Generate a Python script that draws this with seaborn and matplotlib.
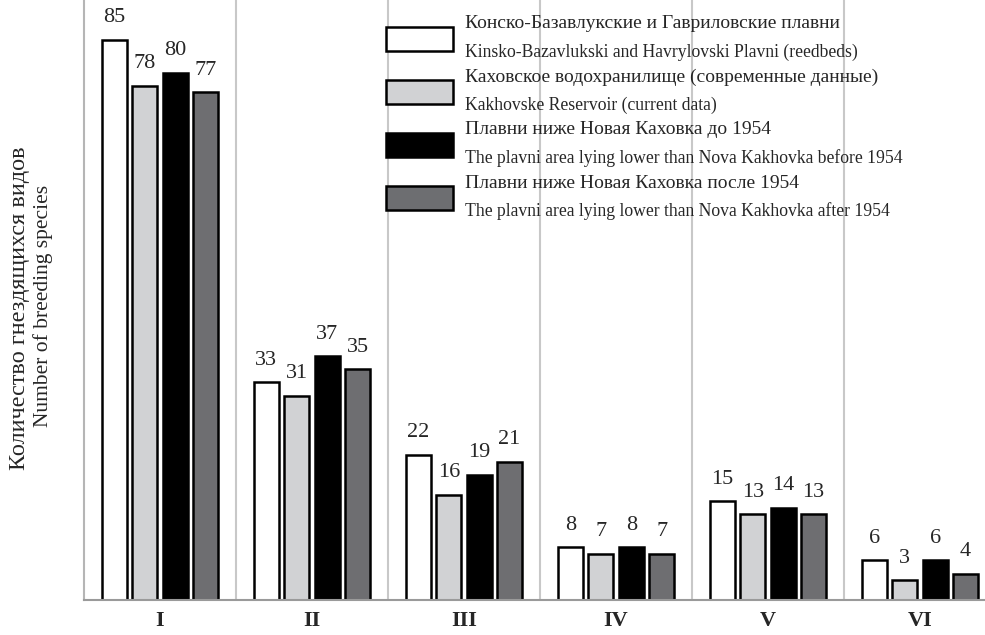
import seaborn as sns
import matplotlib.pyplot as plt
import pandas as pd
from matplotlib.patches import Rectangle

# -----------------------------------------
# Data: number of breeding species by group
# -----------------------------------------

groups = ["I", "II", "III", "IV", "V", "VI"]

series_ru = [
    "Конско-Базавлукские и Гавриловские плавни",
    "Каховское водохранилище (современные данные)",
    "Плавни ниже Новая Каховка до 1954",
    "Плавни ниже Новая Каховка после 1954",
]
series_en = [
    "Kinsko-Bazavlukski and Havrylovski Plavni (reedbeds)",
    "Kakhovske Reservoir (current data)",
    "The plavni area lying lower than Nova Kakhovka before 1954",
    "The plavni area lying lower than Nova Kakhovka after 1954",
]

konsko = [85, 33, 22, 8, 15, 6]
kakhovske = [78, 31, 16, 7, 13, 3]
before_1954 = [80, 37, 19, 8, 14, 6]
after_1954 = [77, 35, 21, 7, 13, 4]

colors = ["#ffffff", "#d1d2d4", "#000000", "#6d6e71"]

df = pd.DataFrame({
    "group": groups * 4,
    "series": sum([[s] * len(groups) for s in series_ru], []),
    "value": konsko + kakhovske + before_1954 + after_1954,
})

# -----------------------------------------
# Styling
# -----------------------------------------

sns.set_style("white")
plt.rcParams["font.family"] = ["Liberation Serif", "DejaVu Serif"]

fig = plt.figure(figsize=(9.85, 6.35), dpi=100)
ax = fig.add_axes([84 / 985, 35 / 635, 912 / 985, 600 / 635])

sns.barplot(
    data=df, x="group", y="value", hue="series",
    order=groups, hue_order=series_ru, palette=colors,
    edgecolor="black", linewidth=1.8, gap=0.17,
    legend=False, ax=ax,
)

for cont in ax.containers:
    ax.bar_label(cont, fontsize=16, padding=9)

# separators between groups
for i in range(len(groups) - 1):
    ax.axvline(i + 0.5, color="#c8c8c8", lw=1.5, zorder=0)

ax.set_xlim(-0.5, len(groups) - 0.5)
ax.set_ylim(0, 91)
ax.set_yticks([])
ax.set_xlabel("")
ax.set_ylabel("")
ax.tick_params(axis="x", length=0, pad=8)
for lbl in ax.get_xticklabels():
    lbl.set_fontsize(16)
    lbl.set_fontweight("bold")

for side in ["top", "right"]:
    ax.spines[side].set_visible(False)
ax.spines["left"].set_color("#b5b5b5")
ax.spines["bottom"].set_color("#9a9a9a")
ax.spines["left"].set_linewidth(1.5)
ax.spines["bottom"].set_linewidth(1.5)

# y label in two languages
fig.text(20 / 985, 1 - 308 / 635, "Количество гнездящихся видов",
         rotation=90, ha="center", va="center", fontsize=17.5)
fig.text(43 / 985, 1 - 306 / 635, "Number of breeding species",
         rotation=90, ha="center", va="center", fontsize=15.5)

# legend (two-line labels with different sizes)
W, H = 985, 635
for i, (ru, en, c) in enumerate(zip(series_ru, series_en, colors)):
    y0 = 27 + i * 53
    fig.add_artist(Rectangle((386 / W, 1 - (y0 + 24) / H), 67 / W, 24 / H,
                             facecolor=c, edgecolor="black", lw=1.8,
                             transform=fig.transFigure))
    fig.text(465 / W, 1 - (y0 - 3) / H, ru, ha="left", va="center", fontsize=14)
    fig.text(465 / W, 1 - (y0 + 25) / H, en, ha="left", va="center", fontsize=12.7)

fig.savefig("out.png", dpi=100)
